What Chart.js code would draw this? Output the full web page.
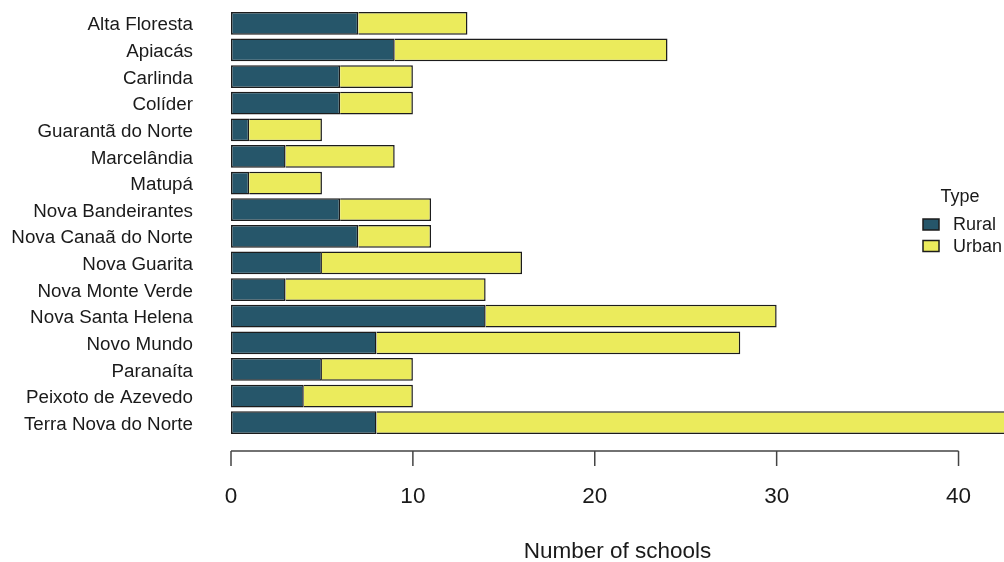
<!DOCTYPE html>
<html>
<head>
<meta charset="utf-8">
<script src="https://cdn.jsdelivr.net/npm/chart.js@4.4.1/dist/chart.umd.min.js"></script>
<style>
  html, body { margin: 0; padding: 0; background: #ffffff; }
  #wrap { width: 1004px; height: 562px; position: relative; }
</style>
</head>
<body>
<div id="wrap"><canvas id="chart" width="1004" height="562"></canvas></div>
<script>
// Schools per municipality, split by location type
const municipalities = [
  "Alta Floresta", "Apiacás", "Carlinda", "Colíder", "Guarantã do Norte",
  "Marcelândia", "Matupá", "Nova Bandeirantes", "Nova Canaã do Norte",
  "Nova Guarita", "Nova Monte Verde", "Nova Santa Helena", "Novo Mundo",
  "Paranaíta", "Peixoto de Azevedo", "Terra Nova do Norte"
];
const ruralSchools = [7, 9, 6, 6, 1, 3, 1, 6, 7, 5, 3, 14, 8, 5, 4, 8];
const urbanSchools = [6, 15, 4, 4, 4, 6, 4, 5, 4, 11, 11, 16, 20, 5, 6, 36];
const xTickValues = [0, 10, 20, 30, 40];
const seriesNames = ["Rural", "Urban"];
const legendTitle = "Type";
const xAxisTitle = "Number of schools";

const FONT = "'Liberation Sans', Arial, sans-serif";
const RURAL_COLOR = "#26566a";
const URBAN_COLOR = "#ebeb5c";
const EDGE = "#1c1c1c";

// R-style bottom axis: line spans first..last tick, ticks hang below
const baseAxis = {
  id: "baseAxis",
  afterDraw(chart) {
    const ctx = chart.ctx;
    const xs = chart.scales.x;
    const yLine = 451;
    ctx.save();
    ctx.strokeStyle = "#444444";
    ctx.lineWidth = 1.5;
    ctx.beginPath();
    ctx.moveTo(xs.getPixelForValue(xTickValues[0]), yLine);
    ctx.lineTo(xs.getPixelForValue(xTickValues[xTickValues.length - 1]), yLine);
    xTickValues.forEach(v => {
      const px = xs.getPixelForValue(v);
      ctx.moveTo(px, yLine);
      ctx.lineTo(px, yLine + 15);
    });
    ctx.stroke();
    ctx.fillStyle = "#1a1a1a";
    ctx.font = "22.5px " + FONT;
    ctx.textAlign = "center";
    ctx.textBaseline = "middle";
    xTickValues.forEach(v => {
      ctx.fillText(String(v), xs.getPixelForValue(v), 497);
    });
    ctx.fillText(xAxisTitle, 617.5, 552);
    ctx.restore();
  }
};

// Legend box on the right side
const sideLegend = {
  id: "sideLegend",
  afterDraw(chart) {
    const ctx = chart.ctx;
    ctx.save();
    ctx.font = "18px " + FONT;
    ctx.fillStyle = "#1a1a1a";
    ctx.textBaseline = "middle";
    ctx.textAlign = "center";
    ctx.fillText(legendTitle, 960, 197);
    ctx.textAlign = "left";
    const colors = [RURAL_COLOR, URBAN_COLOR];
    seriesNames.forEach((name, i) => {
      const yc = 224.5 + i * 21.5;
      ctx.fillStyle = colors[i];
      ctx.fillRect(923, yc - 5.5, 16, 11);
      ctx.strokeStyle = EDGE;
      ctx.lineWidth = 1.5;
      ctx.strokeRect(923, yc - 5.5, 16, 11);
      ctx.fillStyle = "#1a1a1a";
      ctx.fillText(name, 953, yc + 1);
    });
    ctx.restore();
  }
};

new Chart(document.getElementById("chart"), {
  type: "bar",
  data: {
    labels: municipalities,
    datasets: [
      {
        label: seriesNames[0],
        data: ruralSchools,
        backgroundColor: RURAL_COLOR,
        borderColor: EDGE,
        borderWidth: { left: 1.5, right: 1.5, top: 1.5, bottom: 1.5 },
        borderSkipped: false
      },
      {
        label: seriesNames[1],
        data: urbanSchools,
        backgroundColor: URBAN_COLOR,
        borderColor: EDGE,
        borderWidth: { left: 0, right: 1.5, top: 1.5, bottom: 1.5 },
        borderSkipped: false
      }
    ]
  },
  options: {
    indexAxis: "y",
    responsive: false,
    animation: false,
    devicePixelRatio: 1,
    barPercentage: 0.85,
    categoryPercentage: 1,
    layout: { padding: { top: 10, bottom: 126, left: 0, right: 0 } },
    plugins: {
      legend: { display: false },
      tooltip: { enabled: false }
    },
    scales: {
      x: {
        stacked: true,
        display: false,
        min: 0,
        max: 42.5
      },
      y: {
        stacked: true,
        grid: { display: false, drawTicks: false },
        border: { display: false },
        ticks: {
          padding: 38,
          labelOffset: 2,
          color: "#1a1a1a",
          font: { family: FONT, size: 18.8 }
        },
        afterFit(scale) {
          scale.width = 231;
          scale.paddingTop = 0;
          scale.paddingBottom = 0;
        }
      }
    }
  },
  plugins: [baseAxis, sideLegend]
});
</script>
</body>
</html>
